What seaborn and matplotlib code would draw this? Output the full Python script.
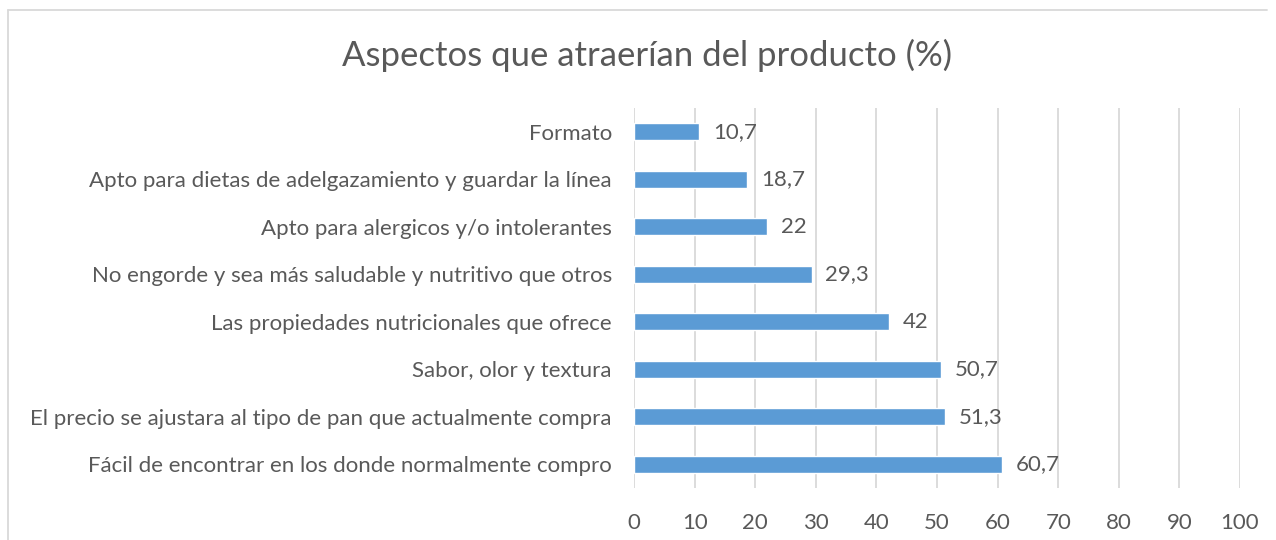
import matplotlib
matplotlib.use("Agg")
import matplotlib.pyplot as plt
from matplotlib.lines import Line2D
import seaborn as sns
import pandas as pd

categories = [
    "Formato",
    "Apto para dietas de adelgazamiento y guardar la línea",
    "Apto para alergicos y/o intolerantes",
    "No engorde y sea más saludable y nutritivo que otros",
    "Las propiedades nutricionales que ofrece",
    "Sabor, olor y textura",
    "El precio se ajustara al tipo de pan que actualmente compra",
    "Fácil de encontrar en los donde normalmente compro",
]
values = [10.7, 18.7, 22, 29.3, 42, 50.7, 51.3, 60.7]
value_labels = ["10,7", "18,7", "22", "29,3", "42", "50,7", "51,3", "60,7"]
x_ticks = list(range(0, 101, 10))

sns.set_theme(style="white")
plt.rcParams["font.family"] = ["Lato", "DejaVu Sans"]

text_color = "#595959"
bar_color = "#5B9BD5"
grid_color = "#D9D9D9"
fs = 16

df = pd.DataFrame({"aspecto": categories, "pct": values})

fig = plt.figure(figsize=(12.76, 5.40), dpi=100)
ax = fig.add_axes([634 / 1276, 1 - 488 / 540, (1240 - 634) / 1276, (488 - 108) / 540])

sns.barplot(data=df, y="aspecto", x="pct", order=categories, color=bar_color,
            width=0.36, saturation=1, ax=ax, zorder=3)

ax.set_xlim(0, 100)
ax.set_xticks(x_ticks)
ax.set_xticklabels([str(t) for t in x_ticks], fontsize=fs, color=text_color)
ax.tick_params(axis="x", length=0, pad=18)
ax.tick_params(axis="y", length=0, pad=16, labelsize=fs, labelcolor=text_color)
ax.set_xlabel("")
ax.set_ylabel("")
for s in ax.spines.values():
    s.set_visible(False)
ax.xaxis.grid(True, color=grid_color, linewidth=1.3, zorder=0)
ax.set_axisbelow(True)

for i, (v, lab) in enumerate(zip(values, value_labels)):
    ax.annotate(lab, xy=(v, i), xytext=(10, 0), textcoords="offset points",
                va="center", ha="left", fontsize=fs, color=text_color)

fig.text(647 / 1276, 1 - 55 / 540, "Aspectos que atraerían del producto (%)",
         ha="center", va="center", fontsize=25, color=text_color)

# chart frame
fig.add_artist(Line2D([8 / 1276, 1267 / 1276], [1 - 10 / 540, 1 - 10 / 540],
                      transform=fig.transFigure, color=grid_color, linewidth=1.3))
fig.add_artist(Line2D([8 / 1276, 8 / 1276], [1 - 10 / 540, 0],
                      transform=fig.transFigure, color=grid_color, linewidth=1.3))

fig.savefig("out.png", dpi=100, facecolor="white")
